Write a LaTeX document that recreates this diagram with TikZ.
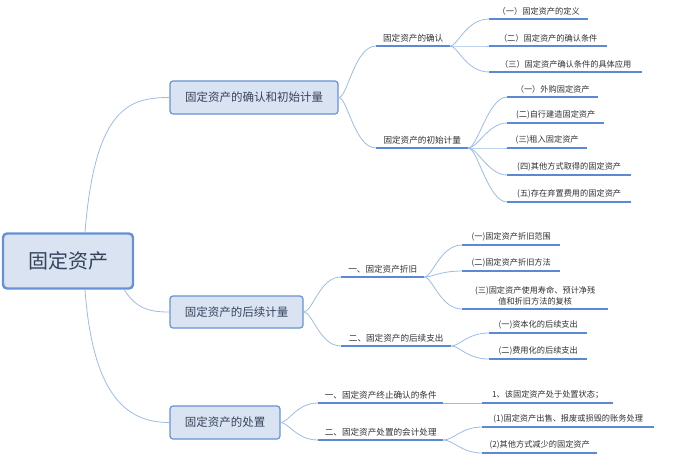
\documentclass[tikz,border=0pt]{standalone}
\usepackage{fontspec}
\setmainfont{Noto Sans CJK SC}
\usetikzlibrary{calc}
\definecolor{boxfill}{HTML}{DAE3F1}
\definecolor{boxline}{HTML}{6592D6}
\definecolor{ulc}{HTML}{5B8AD2}
\definecolor{connc}{HTML}{9CBCE8}
\definecolor{txt}{HTML}{303030}
\definecolor{boxtxt}{HTML}{34435C}
\newcommand\mmleaf{\fontsize{8.2}{11}\selectfont}
\newcommand\mmmid{\fontsize{8.6}{11}\selectfont}
\newcommand\mmtopic[6]{%
  \node[topic, font=#5, minimum width={#3-#2}, anchor=south west] (#1) at (#2,#4) {#6};
  \draw[ul] (#1.south west) -- (#1.south east);}
\newcommand\mmconn[4]{%
  \draw[conn] let \p1=(#1), \p2=(#2) in (\p1) .. controls (\x1+#3,\y1) and (\x1+#4,\y2) .. (\p2);}
\tikzset{
  topic/.style={inner xsep=0pt, inner ysep=3.5pt, align=center, text=txt},
  ul/.style={draw=ulc, line width=2pt},
  conn/.style={draw=connc, line width=0.8pt},
  branchbox/.style={draw=boxline, fill=boxfill, line width=1.2pt, rounded corners=3pt,
    text=boxtxt, font=\fontsize{11.5}{13}\selectfont, inner sep=0pt},
  rootbox/.style={branchbox, line width=2.4pt, rounded corners=4pt, font=\fontsize{20}{24}\selectfont}
}
\begin{document}
\begin{tikzpicture}[x=1pt,y=-1pt]
\useasboundingbox (0,0) rectangle (674,459);
% main boxes
\node[rootbox, minimum width=130, minimum height=55] (root) at (68,261) {固定资产};
\node[branchbox, minimum width=168, minimum height=33] (b1) at (254,97.5) {固定资产的确认和初始计量};
\node[branchbox, minimum width=133, minimum height=32] (b2) at (236.5,312) {固定资产的后续计量};
\node[branchbox, minimum width=110, minimum height=33] (b3) at (225,422.5) {固定资产的处置};
% root connectors
\coordinate (r1) at ($(root.north)+(17,0)$);
\coordinate (r2) at ($(root.south east)+(-10,0)$);
\coordinate (r3) at ($(root.south)+(17,0)$);
\draw[conn] (r1) .. controls ($(r1)+(10,-125)$) and ($(b1.west)+(-40,0)$) .. (b1.west);
\draw[conn] (r2) .. controls ($(r2)+(12,19)$) and ($(b2.west)+(-20,0)$) .. (b2.west);
\draw[conn] (r3) .. controls ($(r3)+(8,110)$) and ($(b3.west)+(-40,0)$) .. (b3.west);
% branch 1
\mmtopic{c1}{376}{450}{46}{\mmmid}{固定资产的确认}
\mmtopic{c2}{376}{468}{148}{\mmmid}{固定资产的初始计量}
\mmtopic{l11}{489}{588}{19}{\mmleaf}{（一）固定资产的定义}
\mmtopic{l12}{489}{607}{46}{\mmleaf}{（二）固定资产的确认条件}
\mmtopic{l13}{489}{642}{72}{\mmleaf}{（三）固定资产确认条件的具体应用}
\mmtopic{l21}{507}{598}{97}{\mmleaf}{（一）外购固定资产}
\mmtopic{l22}{507}{604}{123}{\mmleaf}{(二)自行建造固定资产}
\mmtopic{l23}{507}{587}{148}{\mmleaf}{(三)租入固定资产}
\mmtopic{l24}{507}{631}{175}{\mmleaf}{(四)其他方式取得的固定资产}
\mmtopic{l25}{507}{631}{202}{\mmleaf}{(五)存在弃置费用的固定资产}
\mmconn{b1.east}{c1.south west}{9}{16}
\mmconn{b1.east}{c2.south west}{9}{16}
\mmconn{c1.south east}{l11.south west}{7}{16}
\mmconn{c1.south east}{l12.south west}{7}{16}
\mmconn{c1.south east}{l13.south west}{7}{16}
\mmconn{c2.south east}{l21.south west}{9}{20}
\mmconn{c2.south east}{l22.south west}{9}{20}
\mmconn{c2.south east}{l23.south west}{9}{20}
\mmconn{c2.south east}{l24.south west}{9}{20}
\mmconn{c2.south east}{l25.south west}{9}{20}
% branch 2
\mmtopic{d1}{341}{424}{277}{\mmmid}{一、固定资产折旧}
\mmtopic{d2}{341}{451}{346}{\mmmid}{二、固定资产的后续支出}
\mmtopic{m11}{462}{560}{245}{\mmleaf}{(一)固定资产折旧范围}
\mmtopic{m12}{462}{560}{271}{\mmleaf}{(二)固定资产折旧方法}
\mmtopic{m13}{462}{608}{309}{\mmleaf}{(三)固定资产使用寿命、预计净残\\值和折旧方法的复核}
\mmtopic{m21}{489}{587}{333}{\mmleaf}{(一)资本化的后续支出}
\mmtopic{m22}{489}{587}{359}{\mmleaf}{(二)费用化的后续支出}
\mmconn{b2.east}{d1.south west}{9}{16}
\mmconn{b2.east}{d2.south west}{9}{16}
\mmconn{d1.south east}{m11.south west}{8}{16}
\mmconn{d1.south east}{m12.south west}{8}{16}
\mmconn{d1.south east}{m13.south west}{8}{16}
\mmconn{d2.south east}{m21.south west}{8}{16}
\mmconn{d2.south east}{m22.south west}{8}{16}
% branch 3
\mmtopic{e1}{318}{443}{403}{\mmmid}{一、固定资产终止确认的条件}
\mmtopic{e2}{318}{443}{440}{\mmmid}{二、固定资产处置的会计处理}
\mmtopic{n11}{482}{613}{403}{\mmleaf}{1、该固定资产处于处置状态；}
\mmtopic{n21}{482}{654}{427}{\mmleaf}{(1)固定资产出售、报废或损毁的账务处理}
\mmtopic{n22}{482}{597}{453}{\mmleaf}{(2)其他方式减少的固定资产}
\mmconn{b3.east}{e1.south west}{8}{16}
\mmconn{b3.east}{e2.south west}{8}{16}
\mmconn{e1.south east}{n11.south west}{10}{16}
\mmconn{e2.south east}{n21.south west}{10}{18}
\mmconn{e2.south east}{n22.south west}{10}{18}
\end{tikzpicture}
\end{document}
